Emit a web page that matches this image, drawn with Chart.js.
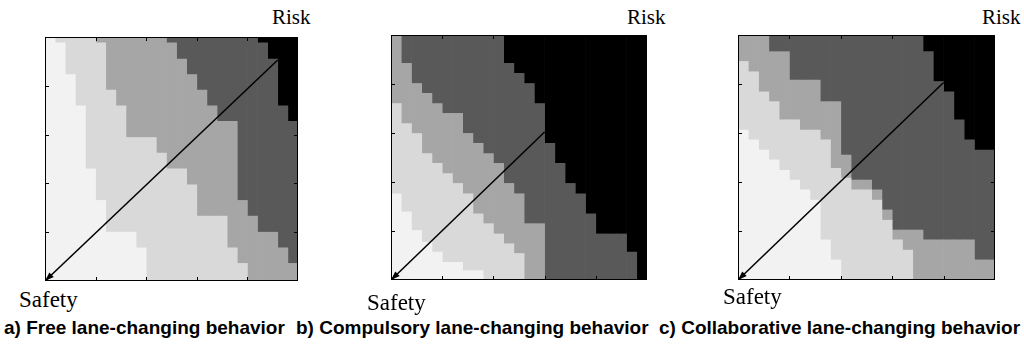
<!DOCTYPE html>
<html>
<head>
<meta charset="utf-8">
<title>Lane-changing risk maps</title>
<script src="https://cdn.jsdelivr.net/npm/chart.js@4/dist/chart.umd.min.js"></script>
<style>
  html, body { margin: 0; padding: 0; background: #fff; }
  body { position: relative; width: 1024px; height: 348px; overflow: hidden; }
  canvas { position: absolute; }
  .lbl { position: absolute; white-space: nowrap; line-height: 1; color: #000; }
  .serif { font-family: 'Liberation Serif', 'Times New Roman', serif; font-size: 21px; }
  .safety { font-size: 23px; }
  .caption { font-family: 'Liberation Sans', Arial, sans-serif; font-weight: bold; font-size: 19px; top: 318px; }
</style>
</head>
<body>
<canvas id="free"></canvas>
<canvas id="compulsory"></canvas>
<canvas id="collab"></canvas>

<div class="lbl serif" style="left:272px; top:7px;">Risk</div>
<div class="lbl serif" style="left:627px; top:7px;">Risk</div>
<div class="lbl serif" style="left:982px; top:7px;">Risk</div>
<div class="lbl serif safety" style="left:19px; top:288px;">Safety</div>
<div class="lbl serif safety" style="left:367px; top:291px;">Safety</div>
<div class="lbl serif safety" style="left:723px; top:285px;">Safety</div>
<div class="lbl caption" style="left:4px;">a) Free lane-changing behavior</div>
<div class="lbl caption" style="left:296px;">b) Compulsory lane-changing behavior</div>
<div class="lbl caption" style="left:659px;">c) Collaborative lane-changing behavior</div>

<script>
// x: 25 cells across each map, y: 0 (safe corner) .. 5 (risk corner)
var columns = [0.5, 1.5, 2.5, 3.5, 4.5, 5.5, 6.5, 7.5, 8.5, 9.5, 10.5, 11.5, 12.5,
               13.5, 14.5, 15.5, 16.5, 17.5, 18.5, 19.5, 20.5, 21.5, 22.5, 23.5, 24.5];
var xTicks = [5, 10, 15, 20];
var yTicks = [1, 2, 3, 4];

// top edge of each grey band, per column (above "High" is black)
// a) free lane-changing
var freeSafe = [5, 4.88, 4.23, 3.59, 2.30, 1.65, 1.00, 1.00, 1.00, 0.68, 0, 0, 0, 0, 0, 0, 0, 0, 0, 0, 0, 0, 0, 0, 0];
var freeLow  = [5, 5, 5, 5, 5, 4.88, 3.91, 3.59, 2.94, 2.94, 2.94, 2.62, 2.30, 2.30, 1.97, 1.33, 1.33, 1.33, 0.68, 0.36, 0, 0, 0, 0, 0];
var freeMid  = [5, 5, 5, 5, 5, 5, 5, 5, 5, 5, 5, 5, 4.88, 4.55, 4.23, 3.91, 3.59, 3.27, 3.27, 1.65, 1.33, 1.00, 1.00, 0.68, 0.36];
var freeHigh = [5, 5, 5, 5, 5, 5, 5, 5, 5, 5, 5, 5, 5, 5, 5, 5, 5, 5, 5, 5, 5, 4.88, 4.55, 3.59, 3.27];
var freeArrow = [23, 4.53];

// b) compulsory lane-changing
var compSafe = [1.76, 1.39, 1.01, 0.77, 0.57, 0.36, 0.36, 0.19, 0.19, 0, 0, 0, 0, 0, 0, 0, 0, 0, 0, 0, 0, 0, 0, 0, 0];
var compLow  = [3.60, 3.19, 2.99, 2.58, 2.38, 2.17, 1.97, 1.76, 1.35, 1.15, 0.94, 0.74, 0.54, 0, 0, 0, 0, 0, 0, 0, 0, 0, 0, 0, 0];
var compMid  = [5, 4.42, 4.01, 3.81, 3.60, 3.40, 3.40, 2.99, 2.79, 2.58, 2.38, 1.97, 1.76, 1.15, 1.15, 0, 0, 0, 0, 0, 0, 0, 0, 0, 0];
var compHigh = [5, 5, 5, 5, 5, 5, 5, 5, 5, 5, 5, 4.42, 4.22, 4.01, 3.60, 2.79, 2.38, 1.97, 1.76, 1.35, 0.94, 0.94, 0.94, 0.57, 0];
var compArrow = [15, 3.02];

// c) collaborative lane-changing
var collSafe = [3.06, 2.86, 2.65, 2.45, 2.24, 2.04, 1.84, 1.63, 0.82, 0.41, 0, 0, 0, 0, 0, 0, 0, 0, 0, 0, 0, 0, 0, 0, 0];
var collLow  = [4.46, 4.25, 3.84, 3.64, 3.27, 3.27, 3.06, 3.06, 2.86, 2.28, 2.08, 1.84, 1.84, 1.63, 1.22, 0.82, 0.61, 0, 0, 0, 0, 0, 0, 0, 0];
var collMid  = [5, 5, 5, 4.66, 4.66, 4.08, 4.08, 4.08, 3.64, 3.64, 2.55, 2.04, 2.04, 1.84, 1.43, 1.02, 1.02, 1.02, 0.82, 0.82, 0.82, 0.82, 0.82, 0.41, 0.41];
var collHigh = [5, 5, 5, 5, 5, 5, 5, 5, 5, 5, 5, 5, 5, 5, 5, 5, 5, 5, 4.66, 4.05, 3.84, 3.27, 2.86, 2.65, 2.65];
var collArrow = [20, 4.03];

var levelColors = ['#f2f2f2', '#d9d9d9', '#a6a6a6', '#595959', '#000000'];
var Y_MAX = 5, X_MAX = 25, PAD = 6, TICK = 4;

// turn the band tops into floating bars, one dataset per grey level
function bandDatasets(edges) {
    var sets = [];
    for (var lvl = 0; lvl < 5; lvl++) {
        var data = [];
        columns.forEach(function(cx, i) {
            var lo = lvl === 0 ? 0 : edges[lvl - 1][i];
            var hi = lvl === 4 ? Y_MAX : edges[lvl][i];
            if (hi > lo) data.push({ x: cx, y: [lo, hi] });
        });
        sets.push({
            type: 'bar',
            data: data,
            backgroundColor: levelColors[lvl],
            borderWidth: 0,
            grouped: false,
            barPercentage: 1,
            categoryPercentage: 1,
            order: 1
        });
    }
    return sets;
}

// box, ticks pointing inwards, arrow head at the safety corner
var axesFrame = {
    id: 'axesFrame',
    afterDatasetsDraw: function(chart) {
        var ctx = chart.ctx, a = chart.chartArea;
        var x = chart.scales.x, y = chart.scales.y;
        var sets = chart.data.datasets;
        var arrow = sets[sets.length - 1].data;

        var tipX = x.getPixelForValue(arrow[0].x), tipY = y.getPixelForValue(arrow[0].y);
        var endX = x.getPixelForValue(arrow[1].x), endY = y.getPixelForValue(arrow[1].y);
        var ang = Math.atan2(tipY - endY, tipX - endX);
        var len = 9, half = 3.2;
        ctx.save();
        ctx.fillStyle = '#000';
        ctx.beginPath();
        ctx.moveTo(tipX, tipY);
        ctx.lineTo(tipX - len * Math.cos(ang) + half * Math.sin(ang), tipY - len * Math.sin(ang) - half * Math.cos(ang));
        ctx.lineTo(tipX - len * Math.cos(ang) - half * Math.sin(ang), tipY - len * Math.sin(ang) + half * Math.cos(ang));
        ctx.closePath();
        ctx.fill();

        ctx.strokeStyle = '#000';
        ctx.lineWidth = 1;
        ctx.strokeRect(a.left + 0.5, a.top + 0.5, a.right - a.left - 1, a.bottom - a.top - 1);

        ctx.beginPath();
        xTicks.forEach(function(v) {
            var px = Math.round(x.getPixelForValue(v)) + 0.5;
            ctx.moveTo(px, a.bottom); ctx.lineTo(px, a.bottom - TICK);
            ctx.moveTo(px, a.top); ctx.lineTo(px, a.top + TICK);
        });
        yTicks.forEach(function(v) {
            var py = Math.round(y.getPixelForValue(v)) + 0.5;
            ctx.moveTo(a.left, py); ctx.lineTo(a.left + TICK, py);
            ctx.moveTo(a.right, py); ctx.lineTo(a.right - TICK, py);
        });
        ctx.stroke();
        ctx.restore();
    }
};

function drawMap(id, box, edges, arrowEnd) {
    var canvas = document.getElementById(id);
    canvas.width = box.w + 2 * PAD;
    canvas.height = box.h + 2 * PAD;
    canvas.style.left = (box.x - PAD) + 'px';
    canvas.style.top = (box.y - PAD) + 'px';

    var arrowSet = {
        type: 'line',
        data: [{ x: 0, y: 0 }, { x: arrowEnd[0], y: arrowEnd[1] }],
        borderColor: '#000',
        borderWidth: 1.5,
        pointRadius: 0,
        order: 0
    };

    new Chart(canvas, {
        type: 'bar',
        data: { datasets: bandDatasets(edges).concat([arrowSet]) },
        options: {
            responsive: false,
            animation: false,
            devicePixelRatio: 1,
            layout: { padding: PAD },
            plugins: { legend: { display: false }, tooltip: { enabled: false } },
            scales: {
                x: { type: 'linear', min: 0, max: X_MAX, offset: false, display: false, ticks: { stepSize: 5 } },
                y: { type: 'linear', min: 0, max: Y_MAX, display: false }
            }
        },
        plugins: [axesFrame]
    });
}

drawMap('free', { x: 45, y: 37, w: 253, h: 244 }, [freeSafe, freeLow, freeMid, freeHigh], freeArrow);
drawMap('compulsory', { x: 391, y: 35, w: 256, h: 245 }, [compSafe, compLow, compMid, compHigh], compArrow);
drawMap('collab', { x: 738, y: 35, w: 257, h: 245 }, [collSafe, collLow, collMid, collHigh], collArrow);
</script>
</body>
</html>
